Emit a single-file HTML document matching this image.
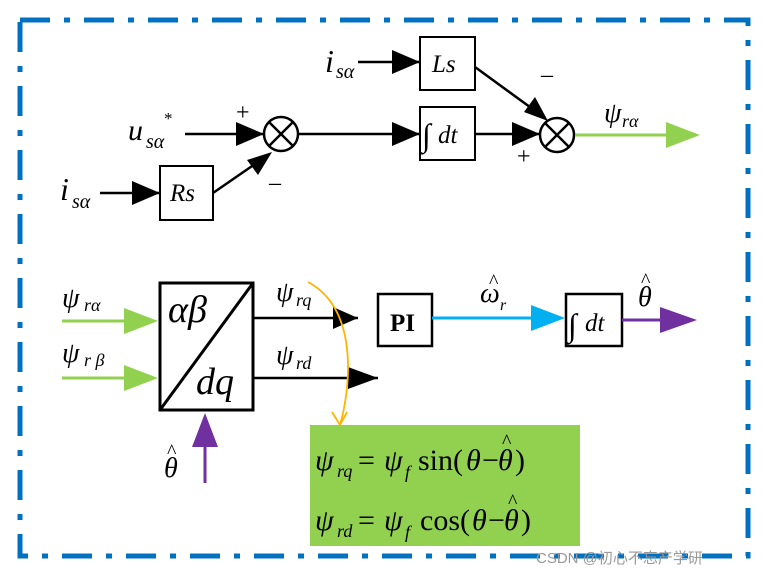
<!DOCTYPE html>
<html><head><meta charset="utf-8"><style>
body{margin:0;background:#fff}
</style></head><body>
<svg width="765" height="576" viewBox="0 0 765 576" xmlns="http://www.w3.org/2000/svg">
<rect x="20" y="20" width="728" height="536" fill="none" stroke="#0070c0" stroke-width="5" stroke-dasharray="30,14,6,14"/>
<g stroke="#000" stroke-width="2.5" fill="none">
<line x1="358" y1="62" x2="420" y2="62"/><path d="M392,50L420,62L392,74z" fill="#000" stroke="none"/>
<rect x="420" y="37" width="55" height="53" fill="#fff" stroke-width="2"/>
<line x1="475" y1="67" x2="545" y2="118"/><path d="M548,121L524,112L535,97z" fill="#000" stroke="none"/>
<line x1="185" y1="134" x2="264" y2="134"/><path d="M236,122L264,134L236,146z" fill="#000" stroke="none"/>
<circle cx="281" cy="134" r="17" fill="#fff"/>
<line x1="269" y1="122" x2="293" y2="146"/><line x1="293" y1="122" x2="269" y2="146"/>
<line x1="298" y1="134" x2="420" y2="134"/><path d="M392,122L420,134L392,146z" fill="#000" stroke="none"/>
<rect x="420" y="107" width="55" height="53" fill="#fff" stroke-width="2"/>
<line x1="475" y1="134" x2="540" y2="134"/><path d="M512,122L540,134L512,146z" fill="#000" stroke="none"/>
<circle cx="557" cy="135" r="17" fill="#fff"/>
<line x1="545" y1="123" x2="569" y2="147"/><line x1="569" y1="123" x2="545" y2="147"/>
<line x1="100" y1="193" x2="160" y2="193"/><path d="M132,181L160,193L132,205z" fill="#000" stroke="none"/>
<rect x="160" y="166" width="53" height="54" fill="#fff" stroke-width="2"/>
<line x1="213" y1="193" x2="268" y2="155"/><path d="M272,152L258,175L247,160z" fill="#000" stroke="none"/>
<rect x="160" y="283" width="93" height="127" fill="#fff" stroke-width="3"/>
<line x1="253" y1="283" x2="160" y2="410" stroke-width="3"/>
<line x1="253" y1="318" x2="358" y2="318"/><path d="M333,307L358,318L333,329z" fill="#000" stroke="none"/>
<line x1="253" y1="378" x2="378" y2="378"/><path d="M348,367L378,378L348,389z" fill="#000" stroke="none"/>
<rect x="378" y="294" width="54" height="52" fill="#fff" stroke-width="2.5"/>
<rect x="566" y="294" width="56" height="52" fill="#fff" stroke-width="2.5"/>
</g>
<line x1="575" y1="135" x2="670" y2="135" stroke="#92d050" stroke-width="3"/><path d="M666,122L700,135L666,148z" fill="#92d050"/>
<line x1="62" y1="321" x2="130" y2="321" stroke="#92d050" stroke-width="3"/><path d="M124,308L158,321L124,334z" fill="#92d050"/>
<line x1="62" y1="378" x2="130" y2="378" stroke="#92d050" stroke-width="3"/><path d="M124,365L158,378L124,391z" fill="#92d050"/>
<line x1="432" y1="318" x2="535" y2="318" stroke="#00b0f0" stroke-width="3"/><path d="M531,305L565,318L531,331z" fill="#00b0f0"/>
<line x1="622" y1="320" x2="665" y2="320" stroke="#7030a0" stroke-width="3"/><path d="M660,307L697,320L660,333z" fill="#7030a0"/>
<line x1="205" y1="483" x2="205" y2="440" stroke="#7030a0" stroke-width="3"/><path d="M192,447L205,413L218,447z" fill="#7030a0"/>
<path d="M308,282C360,310 350,390 340,425" fill="none" stroke="#ffb400" stroke-width="1.8"/>
<path d="M332,412L340,425L347,412" fill="none" stroke="#ffb400" stroke-width="1.8"/>
<rect x="310" y="425" width="270" height="121" fill="#92d050"/>
<g font-family="Liberation Serif, serif" font-style="italic">
<text x="325" y="72" font-size="32">i</text><text x="336" y="78" font-size="20">sα</text>
<text x="432" y="72" font-size="25">Ls</text>
<text x="541" y="82" font-size="24" font-style="normal">–</text>
<text x="236" y="120" font-size="24" font-style="normal">+</text>
<text x="128" y="140" font-size="30">u</text><text x="146" y="148" font-size="20">sα</text><text x="164" y="124" font-size="17" font-style="normal">*</text>
<text x="269" y="190" font-size="24" font-style="normal">–</text>
<text x="517" y="164" font-size="24" font-style="normal">+</text>
<text x="60" y="200" font-size="32">i</text><text x="72" y="208" font-size="20">sα</text>
<text x="170" y="201" font-size="25">Rs</text>
<text x="422" y="146" font-size="32" font-style="normal">∫</text><text x="438" y="143" font-size="25">dt</text>
<text x="604" y="122" font-size="28">ψ</text><text x="622" y="127" font-size="18">rα</text>
<text x="62" y="307" font-size="28">ψ</text><text x="84" y="311" font-size="18">rα</text>
<text x="62" y="362" font-size="28">ψ</text><text x="84" y="366" font-size="18">r β</text>
<text x="168" y="322" font-size="38">αβ</text>
<text x="196" y="394" font-size="38">dq</text>
<text x="276" y="301" font-size="28">ψ</text><text x="296" y="306" font-size="18">rq</text>
<text x="276" y="364" font-size="28">ψ</text><text x="296" y="369" font-size="18">rd</text>
<text x="390" y="331" font-size="25" font-weight="bold" font-style="normal">PI</text>
<text x="480" y="302" font-size="28">ω</text><text x="489" y="288" font-size="20" font-style="normal">^</text><text x="500" y="310" font-size="16">r</text>
<text x="568" y="336" font-size="32" font-style="normal">∫</text><text x="585" y="331" font-size="25">dt</text>
<text x="638" y="306" font-size="28">θ</text><text x="641" y="287" font-size="20" font-style="normal">^</text>
<text x="164" y="477" font-size="28">θ</text><text x="167" y="458" font-size="20" font-style="normal">^</text>
<text x="315" y="470" font-size="30">ψ</text><text x="337" y="477" font-size="18">rq</text>
<text x="358" y="470" font-size="30" font-style="normal">=</text><text x="384" y="470" font-size="30">ψ</text><text x="405" y="478" font-size="18">f</text>
<text x="418" y="470" font-size="30" font-style="normal">sin(</text><text x="466" y="470" font-size="30">θ</text><text x="482" y="470" font-size="30" font-style="normal">−</text><text x="498" y="470" font-size="30">θ</text><text x="502" y="448" font-size="20" font-style="normal">^</text><text x="515" y="470" font-size="30" font-style="normal">)</text>
<text x="315" y="530" font-size="30">ψ</text><text x="337" y="537" font-size="18">rd</text>
<text x="358" y="530" font-size="30" font-style="normal">=</text><text x="384" y="530" font-size="30">ψ</text><text x="405" y="538" font-size="18">f</text>
<text x="420" y="530" font-size="30" font-style="normal">cos(</text><text x="472" y="530" font-size="30">θ</text><text x="488" y="530" font-size="30" font-style="normal">−</text><text x="504" y="530" font-size="30">θ</text><text x="508" y="508" font-size="20" font-style="normal">^</text><text x="521" y="530" font-size="30" font-style="normal">)</text>
</g>
<text x="536" y="563" font-size="15" fill="#999" font-family="Liberation Sans,Noto Sans CJK SC,sans-serif">CSDN @初心不忘产学研</text>
</svg>
</body></html>
